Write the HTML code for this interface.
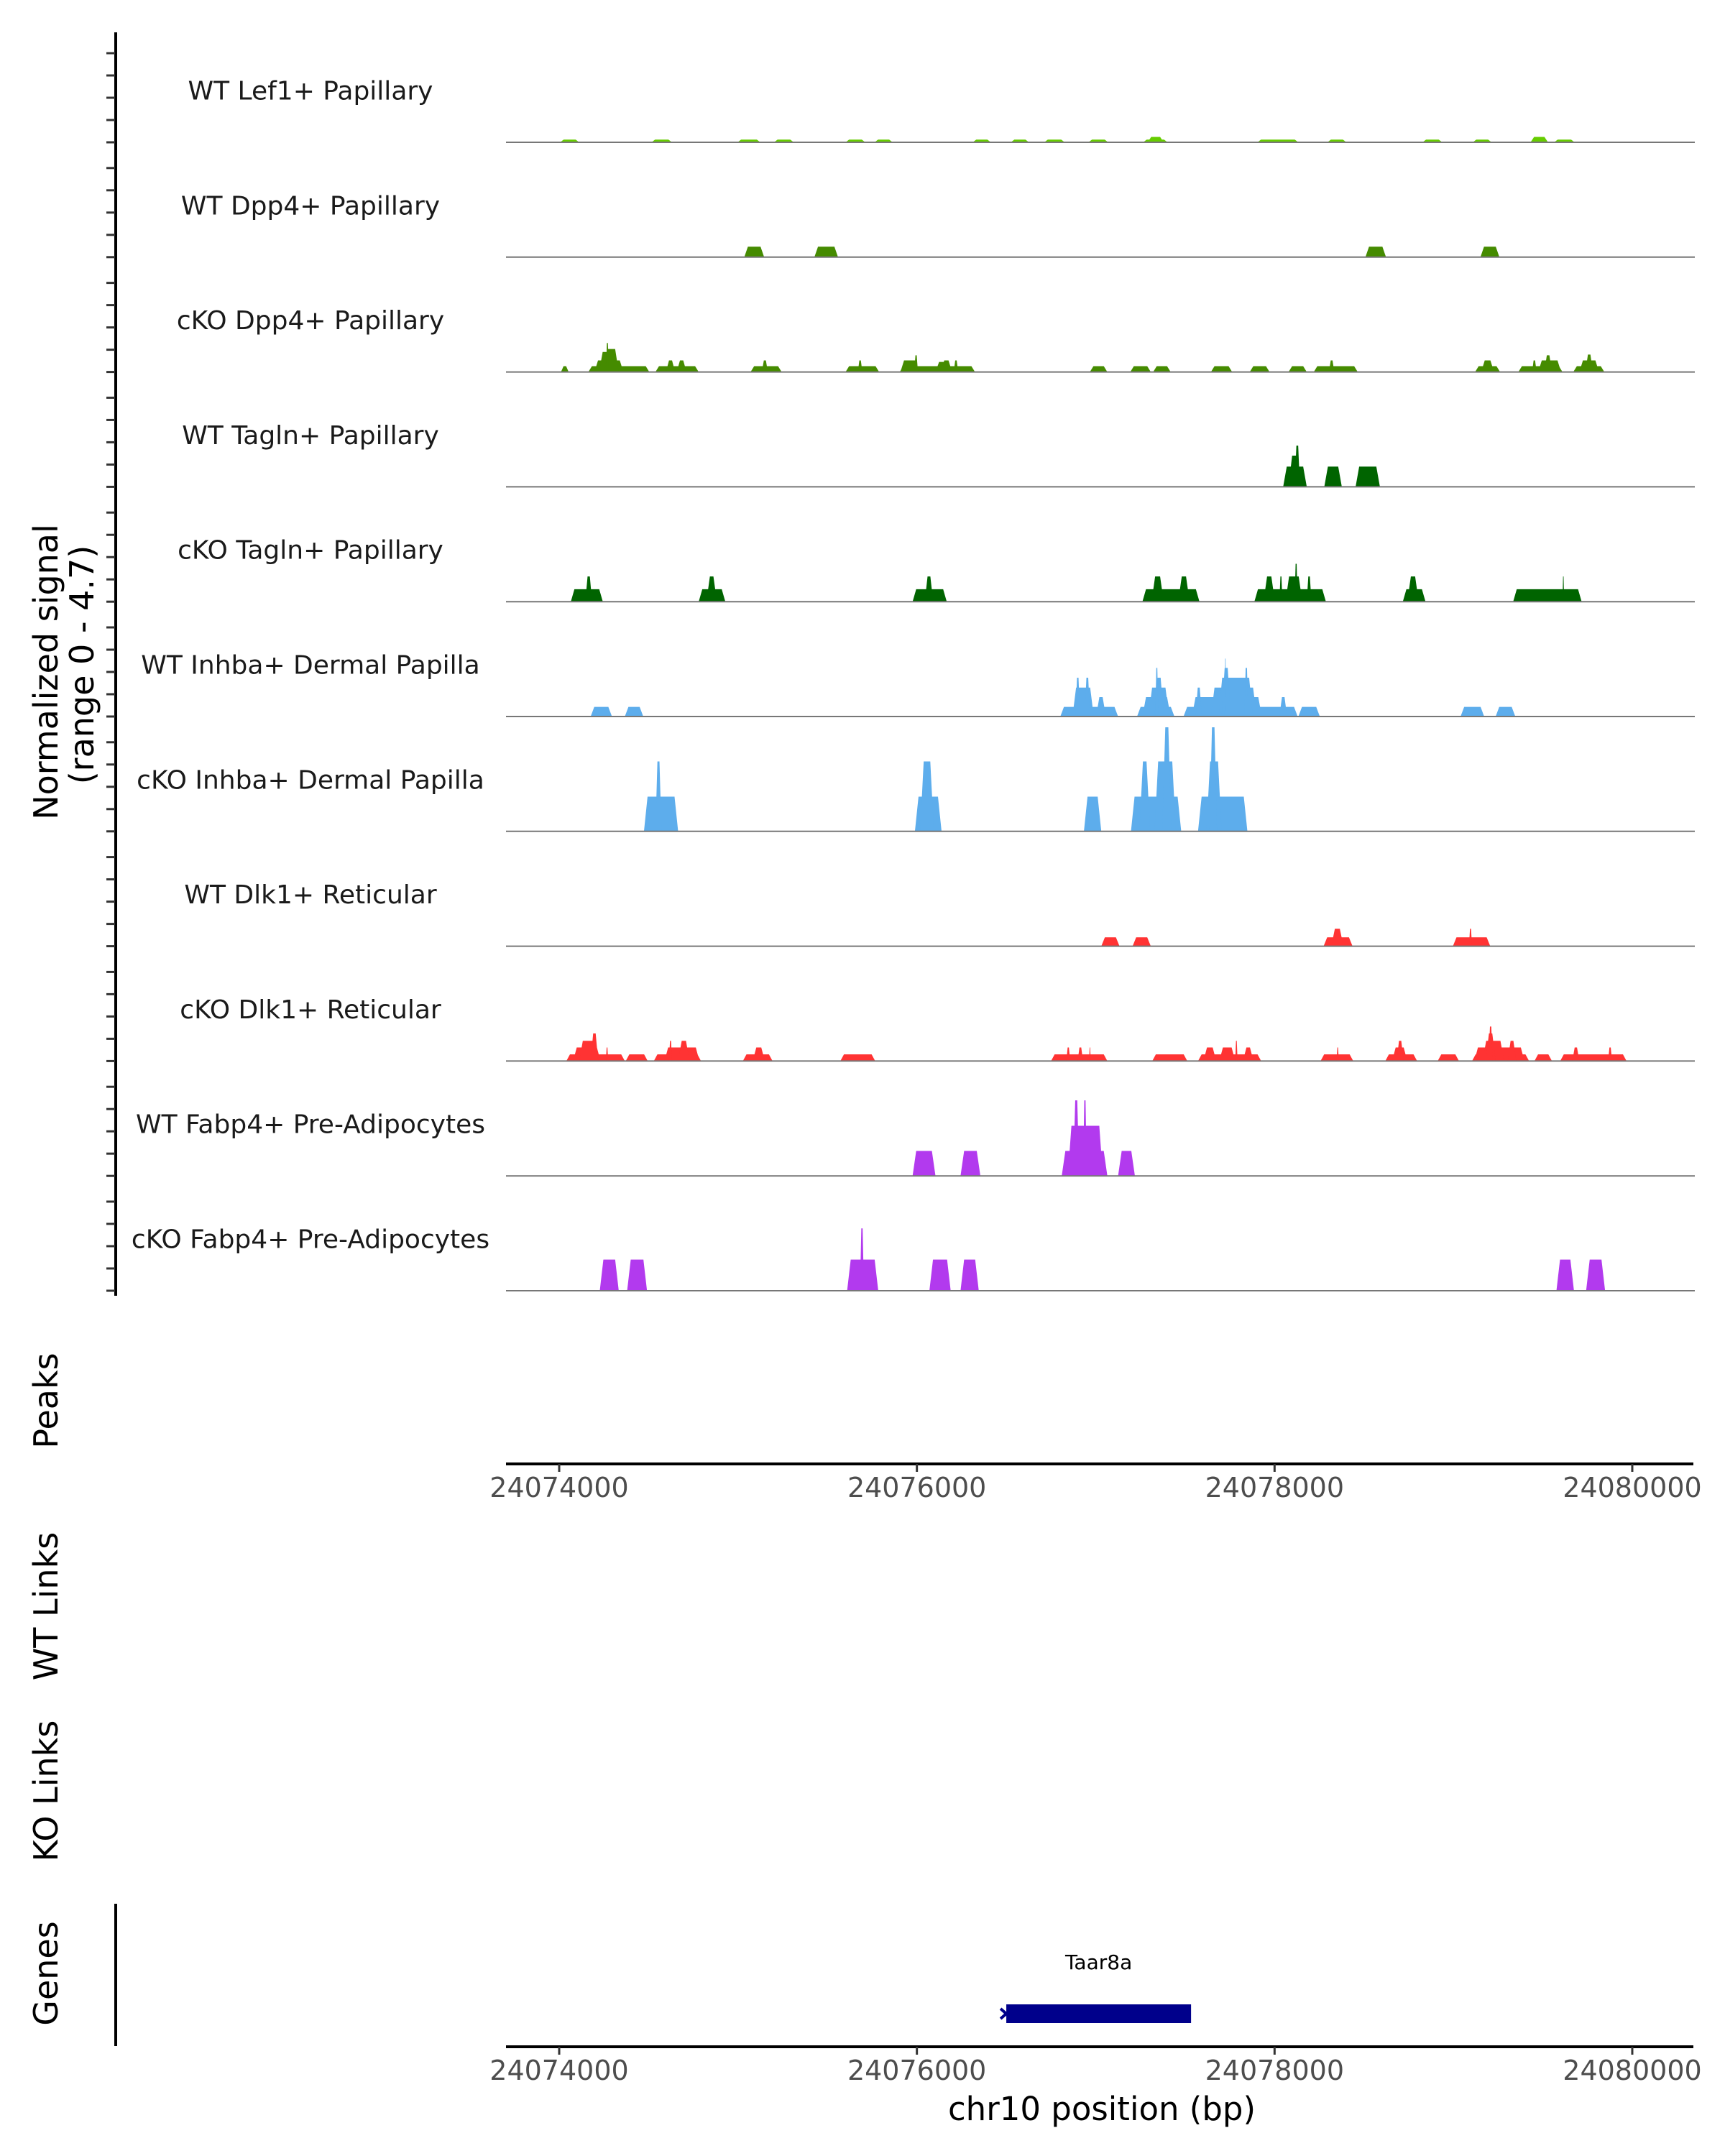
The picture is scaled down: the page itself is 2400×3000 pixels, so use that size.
<!DOCTYPE html>
<html><head><meta charset="utf-8"><title>Coverage tracks chr10</title>
<style>html,body{margin:0;padding:0;background:#fff;}svg{display:block;}</style></head>
<body>
<svg id="fig" width="2400" height="3000" viewBox="0 0 2400 3000" xmlns="http://www.w3.org/2000/svg" font-family="'DejaVu Sans','Liberation Sans',sans-serif">
<rect width="2400" height="3000" fill="#fff"/>
<text transform="translate(80,935) rotate(-90)" text-anchor="middle" font-size="46" fill="#000">Normalized signal</text>
<text transform="translate(130,925) rotate(-90)" text-anchor="middle" font-size="46" fill="#000">(range 0 - 4.7)</text>
<text transform="translate(80,1949) rotate(-90)" text-anchor="middle" font-size="46" fill="#000">Peaks</text>
<text transform="translate(80,2235) rotate(-90)" text-anchor="middle" font-size="46" fill="#000">WT Links</text>
<text transform="translate(80,2492) rotate(-90)" text-anchor="middle" font-size="46" fill="#000">KO Links</text>
<text transform="translate(80,2746) rotate(-90)" text-anchor="middle" font-size="46" fill="#000">Genes</text>
<line x1="161" y1="45" x2="161" y2="1803" stroke="#000" stroke-width="4"/>
<line x1="161" y1="2649" x2="161" y2="2847" stroke="#000" stroke-width="4"/>
<g id="ticks"></g>
<g id="tracks"></g>
<g id="xaxes"></g>
<g id="genes"></g>
<text x="1533" y="2950" text-anchor="middle" font-size="45" fill="#000">chr10 position (bp)</text>
</svg>
<script>
// ---- data (bp offsets from 24074000; each segment = [start, end, value]) ----
const trackNames = ["WT Lef1+ Papillary","WT Dpp4+ Papillary","cKO Dpp4+ Papillary","WT Tagln+ Papillary","cKO Tagln+ Papillary","WT Inhba+ Dermal Papilla","cKO Inhba+ Dermal Papilla","WT Dlk1+ Reticular","cKO Dlk1+ Reticular","WT Fabp4+ Pre-Adipocytes","cKO Fabp4+ Pre-Adipocytes"];
const trackColors = ["#66CC00","#458B00","#458B00","#006400","#006400","#5DADEC","#5DADEC","#FF3333","#FF3333","#B23AEE","#B23AEE"];
const xTicks = [24074000,24076000,24078000,24080000];
const xTickLabels = ["24074000","24076000","24078000","24080000"];
const yMax = 4.7;
const yTicks = [0,1,2,3,4];
const sigLef1WT = [[5,112,0.12],[516,631,0.12],[997,1125,0.12],[1201,1312,0.12],[1601,1712,0.12],[1763,1865,0.12],[2312,2414,0.12],[2525,2627,0.12],[2712,2827,0.12],[2959,3070,0.12],[3265,3402,0.12],[3290,3380,0.24],[3904,4133,0.12],[4295,4402,0.12],[4827,4938,0.12],[5108,5214,0.12],[5431,5529,0.24],[5563,5678,0.12]];
const sigDpp4WT = [[1035,1146,0.47],[1427,1559,0.47],[4508,4623,0.47],[5151,5257,0.47]];
const sigDpp4KO = [[10,53,0.26],[163,504,0.26],[197,359,0.52],[223,333,0.9],[253,333,1.03],[261,278,1.3],[538,780,0.26],[597,648,0.52],[657,712,0.52],[1070,1244,0.26],[1133,1167,0.52],[1601,1789,0.26],[1670,1695,0.52],[1904,2325,0.26],[1908,2010,0.52],[1985,2006,0.75],[2104,2197,0.45],[2133,2197,0.52],[2206,2231,0.52],[2967,3065,0.26],[3193,3308,0.26],[3321,3419,0.26],[3644,3763,0.26],[3861,3972,0.26],[4078,4180,0.26],[4219,4465,0.26],[4304,4334,0.52],[5121,5261,0.26],[5155,5227,0.52],[5363,5610,0.26],[5440,5465,0.52],[5474,5602,0.52],[5508,5551,0.75],[5670,5844,0.26],[5704,5814,0.52],[5738,5780,0.78]];
const sigTaglnWT = [[4048,4180,0.91],[4078,4146,1.4],[4112,4142,1.85],[4278,4376,0.91],[4453,4589,0.91]];
const sigTaglnKO = [[65,244,0.56],[146,184,1.13],[780,929,0.56],[823,882,1.13],[1976,2167,0.56],[2044,2091,1.13],[3261,3580,0.56],[3312,3380,1.13],[3461,3525,1.13],[3887,4287,0.56],[3938,4002,1.13],[4027,4044,1.13],[4061,4155,1.13],[4112,4129,1.7],[4180,4206,1.13],[4717,4844,0.56],[4742,4806,1.13],[5334,5717,0.56],[5610,5619,1.13]];
const sigInhbaWT = [[176,295,0.43],[367,470,0.43],[2802,3125,0.43],[2870,2989,1.3],[2887,2912,1.74],[2938,2968,1.74],[3002,3057,0.87],[3231,3440,0.43],[3261,3419,0.87],[3295,3410,1.3],[3329,3380,1.74],[3333,3350,2.18],[3491,4129,0.43],[3538,3929,0.87],[3559,3593,1.3],[3644,3900,1.3],[3687,3878,1.74],[3704,3755,2.18],[3721,3729,2.6],[3831,3853,2.18],[4027,4070,0.87],[4133,4253,0.43],[5040,5172,0.43],[5236,5346,0.43]];
const sigInhbaKO = [[474,665,1.56],[538,572,3.14],[1989,2138,1.56],[2018,2095,3.14],[2934,3031,1.56],[3197,3478,1.56],[3244,3304,3.14],[3329,3448,3.14],[3372,3423,4.67],[3572,3848,1.56],[3619,3704,3.14],[3636,3678,4.67]];
const sigDlk1WT = [[3031,3133,0.4],[3206,3308,0.4],[4274,4436,0.4],[4317,4385,0.78],[4997,5206,0.4],[5087,5104,0.78]];
const sigDlk1KO = [[40,367,0.3],[78,231,0.61],[112,223,0.91],[176,218,1.24],[261,274,0.61],[372,495,0.3],[529,793,0.3],[589,784,0.61],[614,631,0.91],[665,729,0.91],[1027,1193,0.3],[1082,1150,0.61],[1572,1767,0.3],[2750,3065,0.3],[2836,2857,0.61],[2899,2929,0.61],[2963,2972,0.61],[3316,3512,0.3],[3572,3925,0.3],[3602,3674,0.61],[3691,3780,0.61],[3780,3793,0.91],[3823,3882,0.61],[4257,4440,0.3],[4347,4359,0.61],[4619,4797,0.3],[4657,4742,0.61],[4683,4721,0.91],[4912,5031,0.3],[5104,5423,0.3],[5117,5397,0.61],[5163,5283,0.91],[5180,5236,1.24],[5197,5219,1.55],[5304,5351,0.91],[5453,5551,0.3],[5597,5968,0.3],[5665,5704,0.61],[5865,5887,0.61]];
const sigFabp4WT = [[1976,2104,1.12],[2244,2355,1.12],[2810,3065,1.12],[2844,3040,2.25],[2874,2908,3.39],[2929,2950,3.39],[3125,3219,1.12]];
const sigFabp4KO = [[227,333,1.4],[380,491,1.4],[1610,1784,1.4],[1682,1704,2.8],[2070,2189,1.4],[2244,2346,1.4],[5576,5674,1.4],[5742,5848,1.4]];
const trackSignals = [sigLef1WT,sigDpp4WT,sigDpp4KO,sigTaglnWT,sigTaglnKO,sigInhbaWT,sigInhbaKO,sigDlk1WT,sigDlk1KO,sigFabp4WT,sigFabp4KO];
const geneNames = ["Taar8a"];
const geneStarts = [24076500];
const geneEnds = [24077533];

// ---- layout ----
const NS = "http://www.w3.org/2000/svg";
const X0 = 24074000, PX0 = 778, PXPB = 0.24883;
function xScale(bp){ return PX0 + (bp - X0) * PXPB; }
const BASE0 = 198, STEP = 159.8, UNIT = 31;
function baseY(i){ return BASE0 + i * STEP; }
function yScale(i, v){ return baseY(i) - v * UNIT; }
function mk(tag, attrs, parent){ const e = document.createElementNS(NS, tag); for (const k in attrs) e.setAttribute(k, attrs[k]); parent.appendChild(e); return e; }

const gT = document.getElementById('ticks');
const gTr = document.getElementById('tracks');
const gX = document.getElementById('xaxes');
const gG = document.getElementById('genes');

for (let i = 0; i < trackNames.length; i++) {
  for (const t of yTicks) {
    const y = yScale(i, t);
    const tk = mk('line', {x1:148, x2:160, y1:y, y2:y, stroke:'#333', 'stroke-width':3}, gT);
    
    
  }
  const g = mk('g', {}, gTr);
  
  
  const lbl = mk('text', {x:432, y:baseY(i) - 71, 'text-anchor':'middle', 'dominant-baseline':'central', 'font-size':36, fill:'#1a1a1a'}, g);
  lbl.textContent = trackNames[i];
  
  
  for (const s of trackSignals[i]) {
    const xa = xScale(X0 + s[0]), xb = xScale(X0 + s[1]);
    const yb = baseY(i), yt = yScale(i, Math.min(s[2], yMax));
    const ins = Math.min(5, (xb - xa) / 3);
    const p = mk('polygon', {points: `${xa},${yb} ${xa+ins},${yt} ${xb-ins},${yt} ${xb},${yb}`, fill: trackColors[i]}, g);
    
    
  }
  const bl = mk('line', {x1:704, x2:2358, y1:baseY(i), y2:baseY(i), stroke:'#777', 'stroke-width':2}, g);
  
  
}

const axisYs = [2037, 2848];
axisYs.forEach((ay, k) => {
  const ax = mk('line', {x1:704, x2:2356, y1:ay, y2:ay, stroke:'#000', 'stroke-width':4}, gX);
  
  
  xTicks.forEach((t, j) => {
    const x = xScale(t);
    const tk = mk('line', {x1:x, x2:x, y1:ay, y2:ay + 11, stroke:'#333', 'stroke-width':3}, gX);
    
    
    const tl = mk('text', {x:x, y:ay + 46, 'text-anchor':'middle', 'font-size':38, fill:'#4d4d4d'}, gX);
    tl.textContent = xTickLabels[j];
    
    
  });
});

geneNames.forEach((n, i) => {
  const xa = xScale(geneStarts[i]), xb = xScale(geneEnds[i]);
  const bar = mk('rect', {x:xa, y:2789, width:xb - xa, height:26, fill:'#00008B'}, gG);
  
  
  const ch = mk('path', {d:`M${xa-8},2795 L${xa},2802 L${xa-8},2809`, stroke:'#00008B', 'stroke-width':4, fill:'none'}, gG);
  
  
  const gl = mk('text', {x:(xa + xb) / 2, y:2740, 'text-anchor':'middle', 'font-size':28, fill:'#000'}, gG);
  gl.textContent = n;
  
  
});
</script>
</body></html>
